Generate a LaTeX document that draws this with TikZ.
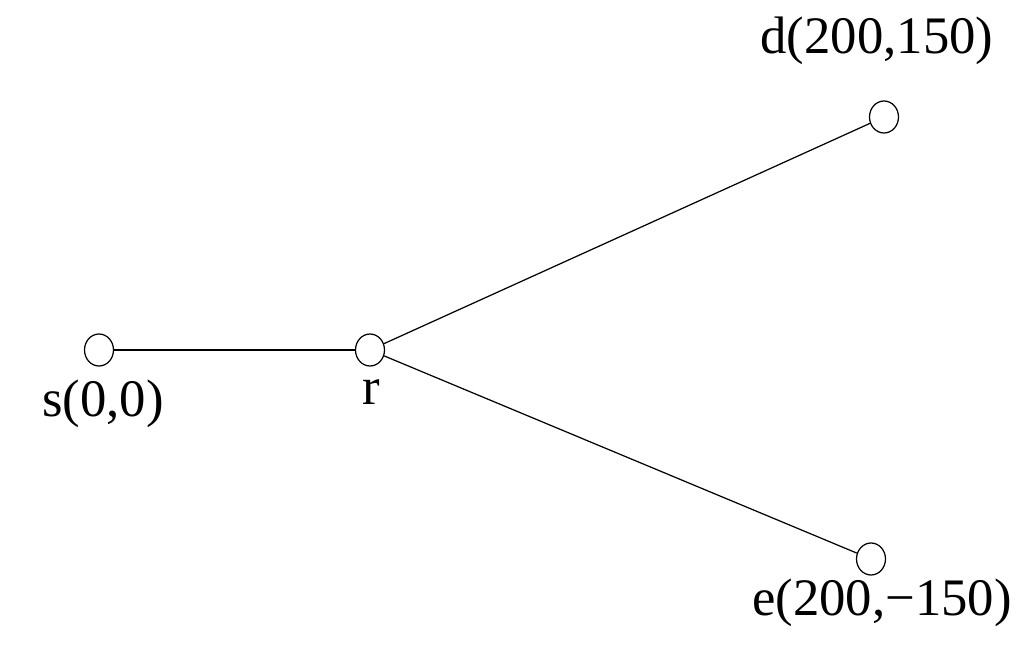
\documentclass[tikz,border=0pt]{standalone}
\usepackage{fontspec}
\setmainfont{Liberation Serif}
\usepackage{tikz}
\usetikzlibrary{shapes.geometric}

\begin{document}
\begin{tikzpicture}[
  x=0.02cm, y=-0.02cm,
  vertex/.style={draw, ellipse, minimum width=0.58cm, minimum height=0.64cm, inner sep=0pt, line width=0.7pt},
  lbl/.style={font=\fontsize{30}{34}\selectfont, inner sep=0pt},
  edge/.style={line width=0.7pt}
]
\useasboundingbox (0,0) rectangle (1024,665);
\node[vertex] (s) at (99,350) {};
\node[vertex] (r) at (370,350) {};
\node[vertex] (d) at (884,117) {};
\node[vertex] (e) at (871,559) {};
\node[lbl] (slbl) at (103,404) {s(0,0)};
\node[lbl] (rlbl) at (371,392) {r};
\node[lbl] (dlbl) at (877,41) {d(200,150)};
\node[lbl] (elbl) at (882,603) {e(200,−150)};
\draw[edge] (s) -- (r);
\draw[edge] (r) -- (d);
\draw[edge] (r) -- (e);
\end{tikzpicture}
\end{document}
